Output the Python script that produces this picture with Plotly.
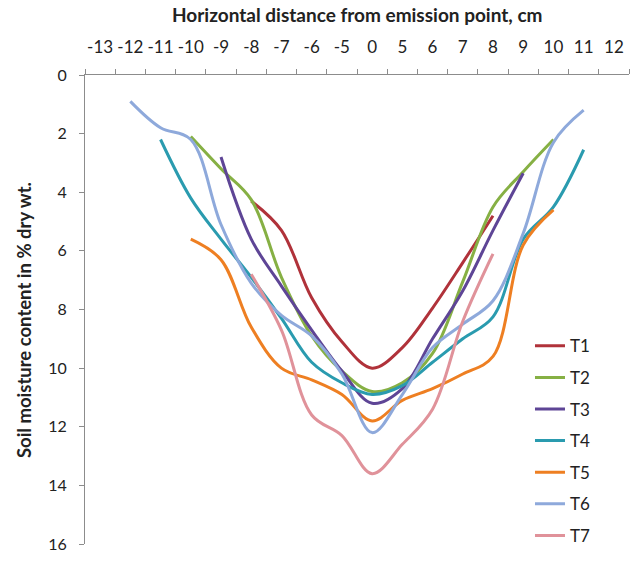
import plotly.graph_objects as go

categories = ["-13", "-12", "-11", "-10", "-9", "-8", "-7", "-6", "-5", "0",
              "5", "6", "7", "8", "9", "10", "11", "12"]

N = None
T1 = [N, N, N, N, N, 4.3, 5.3, 7.6, 9.1, 10.0, 9.3, 7.95, 6.4, 4.8, N, N, N, N]
T2 = [N, N, N, 2.1, 3.2, 4.25, 6.9, 8.9, 10.1, 10.8, 10.5, 9.5, 7.05, 4.5, 3.3, 2.2, N, N]
T3 = [N, N, N, N, 2.8, 5.6, 7.2, 8.7, 10.1, 11.2, 10.7, 9.0, 7.36, 5.3, 3.35, N, N, N]
T4 = [N, N, 2.2, 4.2, 5.6, 6.9, 8.3, 9.8, 10.5, 10.9, 10.6, 9.8, 9.0, 8.25, 5.6, 4.5, 2.55, N]
T5 = [N, N, N, 5.6, 6.3, 8.6, 10.0, 10.4, 10.9, 11.8, 11.1, 10.7, 10.2, 9.6, 5.8, 4.6, N, N]
T6 = [N, 0.9, 1.8, 2.2, 5.1, 7.1, 8.2, 8.9, 10.2, 12.2, 10.9, 9.3, 8.5, 7.7, 5.4, 2.3, 1.2, N]
T7 = [N, N, N, N, N, 6.8, 8.7, 11.6, 12.3, 13.6, 12.6, 11.4, 8.4, 6.1, N, N, N, N]

series_names = ["T1", "T2", "T3", "T4", "T5", "T6", "T7"]
series_values = [T1, T2, T3, T4, T5, T6, T7]
colors = ["#B0323A", "#86B044", "#5E4596", "#2A9BAF", "#EE7F22", "#8EA9DB", "#E0929A"]

y_ticks = [0, 2, 4, 6, 8, 10, 12, 14, 16]

fig = go.Figure()
for name, vals, col in zip(series_names, series_values, colors):
    fig.add_trace(go.Scatter(
        x=categories, y=vals, name=name, mode="lines",
        line=dict(color=col, width=3, shape="spline", smoothing=1.0),
        legendgroup=name, connectgaps=False,
    ))

fig.update_layout(
    width=637, height=561,
    margin=dict(l=85, r=8, t=75, b=15),
    paper_bgcolor="white", plot_bgcolor="white",
    font=dict(family="Lato, Open Sans, sans-serif", color="#222222"),
    showlegend=True,
    legend=dict(
        x=0.818, xanchor="left", y=0.46, yanchor="top",
        font=dict(size=17, family="Lato, sans-serif", color="#222222"),
        tracegroupgap=6.5, bgcolor="rgba(0,0,0,0)",
    ),
    xaxis=dict(
        type="category", categoryorder="array", categoryarray=categories,
        side="top", range=[-0.5, 17.5], automargin=False,
        showline=True, linecolor="#8c8c8c", linewidth=1,
        ticks="outside", ticklen=5, tickcolor="#8c8c8c", tickson="boundaries",
        showgrid=False, zeroline=False, tickangle=0,
        tickfont=dict(size=17, family="Lato, sans-serif", color="#222222"),
        ticklabelstandoff=14,
    ),
    yaxis=dict(
        range=[16, 0], tickvals=y_ticks, automargin=False,
        showline=True, linecolor="#8c8c8c", linewidth=1,
        ticks="outside", ticklen=5, tickcolor="#8c8c8c",
        showgrid=False, zeroline=False,
        tickfont=dict(size=16, family="Lato, sans-serif", color="#222222"),
        ticklabelstandoff=9,
    ),
    annotations=[
        dict(text="<b>Horizontal distance from emission point, cm</b>",
             xref="paper", yref="paper", x=0.5, y=1.1295,
             xanchor="center", yanchor="middle", showarrow=False,
             font=dict(size=19, family="Lato, sans-serif", color="#222222")),
        dict(text="<b>Soil moisture content in % dry wt.</b>",
             xref="paper", yref="paper", x=-0.1116, y=0.478, textangle=-90,
             xanchor="center", yanchor="middle", showarrow=False,
             font=dict(size=18.5, family="Lato, sans-serif", color="#222222")),
    ],
)

fig.write_html(
    "out.html",
    config={"displayModeBar": False},
    post_script="document.body.style.margin='0';document.body.style.padding='0';"
                "document.body.style.overflow='hidden';",
)
